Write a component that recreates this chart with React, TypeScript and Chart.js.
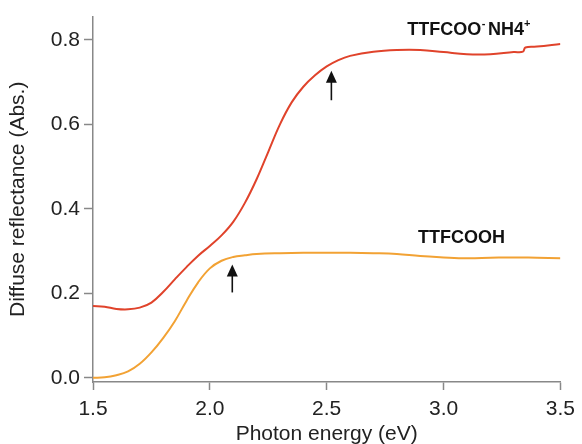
import React, { useEffect, useRef } from "react";
import { Chart, registerables } from "chart.js";

Chart.register(...registerables);

// Photon energy (eV) sample positions and reflectance values
const redEnergy = [1.5, 1.55, 1.6, 1.65, 1.7, 1.75, 1.8, 1.85, 1.9, 1.95, 2.0, 2.05, 2.1, 2.15, 2.2, 2.25, 2.3, 2.35, 2.4, 2.45, 2.5, 2.55, 2.6, 2.7, 2.8, 2.9, 3.0, 3.1, 3.2, 3.3, 3.34, 3.35, 3.4, 3.5];
const redValues = [0.170, 0.168, 0.163, 0.162, 0.166, 0.178, 0.203, 0.233, 0.262, 0.289, 0.312, 0.337, 0.369, 0.414, 0.470, 0.535, 0.600, 0.652, 0.689, 0.716, 0.737, 0.752, 0.762, 0.772, 0.776, 0.776, 0.771, 0.766, 0.766, 0.771, 0.772, 0.782, 0.784, 0.790];

const orangeEnergy = [1.5, 1.55, 1.6, 1.65, 1.7, 1.75, 1.8, 1.85, 1.9, 1.95, 2.0, 2.05, 2.1, 2.15, 2.2, 2.3, 2.4, 2.5, 2.6, 2.7, 2.8, 2.9, 3.0, 3.1, 3.2, 3.3, 3.4, 3.5];
const orangeValues = [0.000, 0.001, 0.006, 0.015, 0.033, 0.060, 0.094, 0.134, 0.182, 0.226, 0.259, 0.277, 0.286, 0.290, 0.293, 0.295, 0.296, 0.296, 0.296, 0.295, 0.293, 0.288, 0.285, 0.283, 0.284, 0.285, 0.284, 0.283];

const xTicks = [1.5, 2.0, 2.5, 3.0, 3.5];
const yTicks = [0.0, 0.2, 0.4, 0.6, 0.8];

// Annotation arrows (x, from y, to y) in data units
const arrowX = [2.52, 2.096];
const arrowFrom = [0.657, 0.202];
const arrowTo = [0.727, 0.268];

// Series labels
const labelX = [2.845, 2.891];
const labelY = [0.812, 0.318];

const FONT = "'Liberation Sans', Arial, Helvetica, sans-serif";

const annotationPlugin = {
  id: "annotations",
  afterDatasetsDraw(chart: any) {
    const ctx = chart.ctx;
    const xs = chart.scales.x;
    const ys = chart.scales.y;
    ctx.save();
    // arrows
    ctx.strokeStyle = "#111";
    ctx.fillStyle = "#111";
    ctx.lineWidth = 1.6;
    for (let i = 0; i < arrowX.length; i++) {
      const px = xs.getPixelForValue(arrowX[i]);
      const y0 = ys.getPixelForValue(arrowFrom[i]);
      const y1 = ys.getPixelForValue(arrowTo[i]);
      ctx.beginPath();
      ctx.moveTo(px, y0);
      ctx.lineTo(px, y1 + 8);
      ctx.stroke();
      ctx.beginPath();
      ctx.moveTo(px, y1);
      ctx.lineTo(px - 5.5, y1 + 12);
      ctx.lineTo(px + 5.5, y1 + 12);
      ctx.closePath();
      ctx.fill();
    }
    // labels
    ctx.fillStyle = "#111";
    ctx.textBaseline = "alphabetic";
    ctx.textAlign = "left";
    const big = "bold 18px " + FONT;
    const small = "bold 11px " + FONT;
    // label 1: TTFCOO^- NH4^+
    let x = xs.getPixelForValue(labelX[0]);
    let y = ys.getPixelForValue(labelY[0]);
    ctx.font = big;
    ctx.fillText("TTFCOO", x, y);
    x += ctx.measureText("TTFCOO").width;
    ctx.font = small;
    ctx.fillText("-", x + 0.5, y - 8);
    x += ctx.measureText("-").width + 3;
    ctx.font = big;
    ctx.fillText("NH4", x, y);
    x += ctx.measureText("NH4").width;
    ctx.font = small;
    ctx.fillText("+", x, y - 8);
    // label 2
    ctx.font = big;
    ctx.fillText("TTFCOOH", xs.getPixelForValue(labelX[1]), ys.getPixelForValue(labelY[1]));
    ctx.restore();
  },
};

export default function App() {
  const ref = useRef<HTMLCanvasElement | null>(null);
  useEffect(() => {
    if (!ref.current) return;
    const chart = new Chart(ref.current, {
      type: "line",
      data: {
        datasets: [
          {
            label: "TTFCOO-NH4+",
            data: redEnergy.map((e, i) => ({ x: e, y: redValues[i] })),
            borderColor: "#e0432b",
            borderWidth: 2,
            pointRadius: 0,
            tension: 0.4,
          },
          {
            label: "TTFCOOH",
            data: orangeEnergy.map((e, i) => ({ x: e, y: orangeValues[i] })),
            borderColor: "#f2a234",
            borderWidth: 2,
            pointRadius: 0,
            tension: 0.4,
          },
        ],
      },
      options: {
        animation: false,
        responsive: false,
        layout: { padding: { left: 0, right: 19, top: 15, bottom: 0 } },
        plugins: { legend: { display: false }, tooltip: { enabled: false } },
        scales: {
          x: {
            type: "linear",
            min: 1.5,
            max: 3.5,
            afterFit: (s: any) => { s.height = 62; },
            afterBuildTicks: (s: any) => { s.ticks = xTicks.map((v) => ({ value: v })); },
            grid: { drawOnChartArea: false, tickLength: 8, color: "#888", tickWidth: 1.5 },
            border: { color: "#888", width: 1.5 },
            ticks: {
              color: "#222",
              font: { family: FONT, size: 21 },
              padding: 7,
              maxRotation: 0,
              callback: (v: any) => Number(v).toFixed(1),
            },
            title: {
              display: true,
              text: "Photon energy (eV)",
              color: "#222",
              font: { family: FONT, size: 21, lineHeight: 1 },
              padding: { top: 0, bottom: -1 },
            },
          },
          y: {
            type: "linear",
            min: -0.01,
            max: 0.855,
            afterFit: (s: any) => { s.width = 93; },
            afterBuildTicks: (s: any) => { s.ticks = yTicks.map((v) => ({ value: v })); },
            grid: { drawOnChartArea: false, tickLength: 9, color: "#888", tickWidth: 1.5 },
            border: { color: "#888", width: 1.5 },
            ticks: {
              color: "#222",
              font: { family: FONT, size: 21 },
              padding: 4,
              callback: (v: any) => Number(v).toFixed(1),
            },
            title: {
              display: true,
              text: "Diffuse reflectance (Abs.)",
              color: "#222",
              font: { family: FONT, size: 21, lineHeight: 1 },
              padding: { top: 8, bottom: 0 },
            },
          },
        },
      },
      plugins: [annotationPlugin],
    });
    return () => chart.destroy();
  }, []);
  return (
    <div style={{ position: "absolute", left: 0, top: 0, width: 582, height: 444, background: "#fff" }}>
      <canvas ref={ref} width={582} height={444} style={{ display: "block" }} />
    </div>
  );
}
